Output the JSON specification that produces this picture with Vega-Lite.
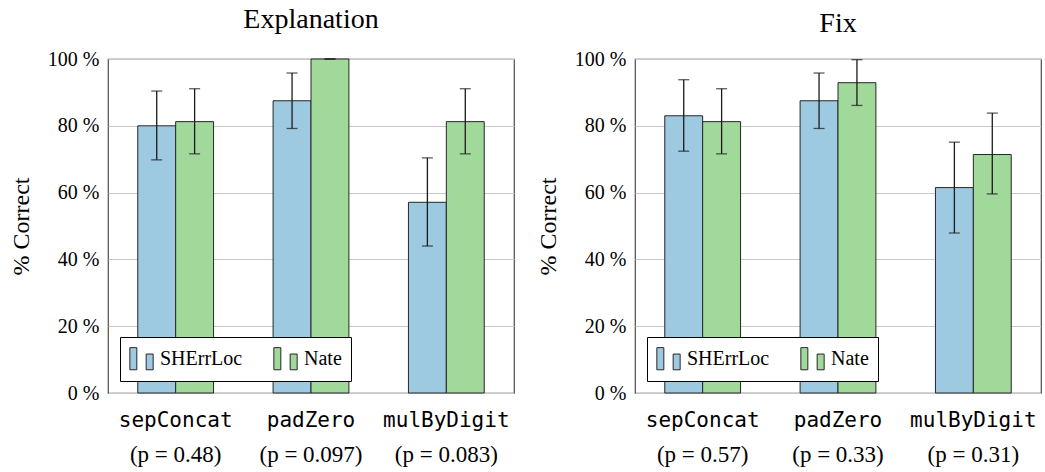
{
  "$schema": "https://vega.github.io/schema/vega-lite/v6.json",
  "background": "white",
  "padding": {"left": 8, "top": 5, "right": 5, "bottom": 0},
  "bounds": "flush",
  "spacing": 121,
  "config": {
    "font": "Liberation Serif",
    "view": {"stroke": "#4d4d4d", "strokeWidth": 1.2}
  },
  "resolve": {"scale": {"color": "independent"}, "legend": {"color": "independent"}},
  "data": {
    "values": [
      {"panel": "Explanation", "task": "sepConcat|(p = 0.48)", "method": "SHErrLoc", "value": 80.0, "lo": 69.8, "hi": 90.4},
      {"panel": "Explanation", "task": "sepConcat|(p = 0.48)", "method": "Nate", "value": 81.25, "lo": 71.6, "hi": 91.1},
      {"panel": "Explanation", "task": "padZero|(p = 0.097)", "method": "SHErrLoc", "value": 87.5, "lo": 79.2, "hi": 95.8},
      {"panel": "Explanation", "task": "padZero|(p = 0.097)", "method": "Nate", "value": 100.0, "lo": 100.0, "hi": 100.0},
      {"panel": "Explanation", "task": "mulByDigit|(p = 0.083)", "method": "SHErrLoc", "value": 57.1, "lo": 44.0, "hi": 70.4},
      {"panel": "Explanation", "task": "mulByDigit|(p = 0.083)", "method": "Nate", "value": 81.25, "lo": 71.6, "hi": 91.1},
      {"panel": "Fix", "task": "sepConcat|(p = 0.57)", "method": "SHErrLoc", "value": 83.0, "lo": 72.4, "hi": 93.8},
      {"panel": "Fix", "task": "sepConcat|(p = 0.57)", "method": "Nate", "value": 81.25, "lo": 71.6, "hi": 91.1},
      {"panel": "Fix", "task": "padZero|(p = 0.33)", "method": "SHErrLoc", "value": 87.5, "lo": 79.2, "hi": 95.8},
      {"panel": "Fix", "task": "padZero|(p = 0.33)", "method": "Nate", "value": 92.9, "lo": 86.1, "hi": 99.8},
      {"panel": "Fix", "task": "mulByDigit|(p = 0.31)", "method": "SHErrLoc", "value": 61.5, "lo": 47.9, "hi": 75.1},
      {"panel": "Fix", "task": "mulByDigit|(p = 0.31)", "method": "Nate", "value": 71.4, "lo": 59.6, "hi": 83.8}
    ]
  },
  "hconcat": [
    {
      "width": 406,
      "height": 334,
      "title": {"text": "Explanation", "font": "Liberation Serif", "fontSize": 28, "fontWeight": "normal", "color": "black", "anchor": "middle", "frame": "group", "baseline": "alphabetic", "offset": -7},
      "transform": [{"filter": "datum.panel == 'Explanation'"}],
      "encoding": {
        "x": {"field": "task", "type": "nominal", "sort": null, "scale": {"paddingInner": 0.44, "paddingOuter": 0.22}},
        "xOffset": {"field": "method", "type": "nominal", "sort": ["SHErrLoc", "Nate"], "scale": {"paddingInner": 0, "paddingOuter": 0}}
      },
      "layer": [
        {
          "mark": {"type": "bar", "stroke": "#262626", "strokeWidth": 1},
          "encoding": {
            "x": {"field": "task", "type": "nominal", "sort": null, "axis": {"orient": "bottom", "title": null, "labelExpr": "split(datum.value, '|')[0]", "labelFont": "DejaVu Sans Mono", "labelFontSize": 21, "labelColor": "black", "labelAngle": 0, "labelPadding": 16, "ticks": false, "tickSize": 0, "domain": false, "grid": false}},
            "y": {"field": "value", "type": "quantitative", "scale": {"domain": [0, 100], "nice": false}, "axis": {"title": "% Correct", "titleFont": "Liberation Serif", "titleFontSize": 24, "titleFontWeight": "normal", "titleColor": "black", "titlePadding": 14, "values": [0, 20, 40, 60, 80, 100], "labelExpr": "datum.value + ' %'", "labelFont": "Liberation Serif", "labelFontSize": 20, "labelColor": "black", "labelPadding": 9, "ticks": false, "tickSize": 0, "domain": false, "grid": true, "gridColor": "#c8c8c8", "gridWidth": 1}},
            "color": {"field": "method", "type": "nominal", "scale": {"domain": ["SHErrLoc", "Nate"], "range": ["#9ecae1", "#a1d99b"]}, "legend": {"title": null, "orient": "bottom-left", "offset": 12, "direction": "horizontal", "symbolType": "M-1,-0.95H-0.4V0.95H-1Z M0.4,-0.4H1V0.95H0.4Z", "symbolSize": 543, "symbolStrokeColor": "#262626", "symbolStrokeWidth": 1, "symbolOpacity": 1, "labelFont": "Liberation Serif", "labelFontSize": 20, "labelColor": "black", "labelOffset": 6, "columnPadding": 28, "strokeColor": "black", "fillColor": "white", "padding": 9}}
          }
        },
        {
          "mark": {"type": "rule", "color": "#1a1a1a", "strokeWidth": 1.3},
          "encoding": {
            "x": {"field": "task", "type": "nominal", "sort": null, "axis": {"orient": "bottom", "title": null, "labelExpr": "split(datum.value, '|')[1]", "labelFont": "Liberation Serif", "labelFontSize": 23, "labelColor": "black", "labelAngle": 0, "labelPadding": 50, "ticks": false, "tickSize": 0, "domain": false, "grid": false}},
            "y": {"field": "lo", "type": "quantitative"},
            "y2": {"field": "hi"}
          }
        },
        {
          "mark": {"type": "tick", "color": "#1a1a1a", "size": 11, "thickness": 1.3},
          "encoding": {
            "x": {"field": "task", "type": "nominal", "sort": null, "axis": null},
            "y": {"field": "lo", "type": "quantitative"}
          }
        },
        {
          "mark": {"type": "tick", "color": "#1a1a1a", "size": 11, "thickness": 1.3},
          "encoding": {
            "x": {"field": "task", "type": "nominal", "sort": null, "axis": null},
            "y": {"field": "hi", "type": "quantitative"}
          }
        }
      ],
      "resolve": {"axis": {"x": "independent"}}
    },
    {
      "width": 406,
      "height": 334,
      "title": {"text": "Fix", "font": "Liberation Serif", "fontSize": 28, "fontWeight": "normal", "color": "black", "anchor": "middle", "frame": "group", "baseline": "alphabetic", "offset": -11},
      "transform": [{"filter": "datum.panel == 'Fix'"}],
      "encoding": {
        "x": {"field": "task", "type": "nominal", "sort": null, "scale": {"paddingInner": 0.44, "paddingOuter": 0.22}},
        "xOffset": {"field": "method", "type": "nominal", "sort": ["SHErrLoc", "Nate"], "scale": {"paddingInner": 0, "paddingOuter": 0}}
      },
      "layer": [
        {
          "mark": {"type": "bar", "stroke": "#262626", "strokeWidth": 1},
          "encoding": {
            "x": {"field": "task", "type": "nominal", "sort": null, "axis": {"orient": "bottom", "title": null, "labelExpr": "split(datum.value, '|')[0]", "labelFont": "DejaVu Sans Mono", "labelFontSize": 21, "labelColor": "black", "labelAngle": 0, "labelPadding": 16, "ticks": false, "tickSize": 0, "domain": false, "grid": false}},
            "y": {"field": "value", "type": "quantitative", "scale": {"domain": [0, 100], "nice": false}, "axis": {"title": "% Correct", "titleFont": "Liberation Serif", "titleFontSize": 24, "titleFontWeight": "normal", "titleColor": "black", "titlePadding": 14, "values": [0, 20, 40, 60, 80, 100], "labelExpr": "datum.value + ' %'", "labelFont": "Liberation Serif", "labelFontSize": 20, "labelColor": "black", "labelPadding": 9, "ticks": false, "tickSize": 0, "domain": false, "grid": true, "gridColor": "#c8c8c8", "gridWidth": 1}},
            "color": {"field": "method", "type": "nominal", "scale": {"domain": ["SHErrLoc", "Nate"], "range": ["#9ecae1", "#a1d99b"]}, "legend": {"title": null, "orient": "bottom-left", "offset": 12, "direction": "horizontal", "symbolType": "M-1,-0.95H-0.4V0.95H-1Z M0.4,-0.4H1V0.95H0.4Z", "symbolSize": 543, "symbolStrokeColor": "#262626", "symbolStrokeWidth": 1, "symbolOpacity": 1, "labelFont": "Liberation Serif", "labelFontSize": 20, "labelColor": "black", "labelOffset": 6, "columnPadding": 28, "strokeColor": "black", "fillColor": "white", "padding": 9}}
          }
        },
        {
          "mark": {"type": "rule", "color": "#1a1a1a", "strokeWidth": 1.3},
          "encoding": {
            "x": {"field": "task", "type": "nominal", "sort": null, "axis": {"orient": "bottom", "title": null, "labelExpr": "split(datum.value, '|')[1]", "labelFont": "Liberation Serif", "labelFontSize": 23, "labelColor": "black", "labelAngle": 0, "labelPadding": 50, "ticks": false, "tickSize": 0, "domain": false, "grid": false}},
            "y": {"field": "lo", "type": "quantitative"},
            "y2": {"field": "hi"}
          }
        },
        {
          "mark": {"type": "tick", "color": "#1a1a1a", "size": 11, "thickness": 1.3},
          "encoding": {
            "x": {"field": "task", "type": "nominal", "sort": null, "axis": null},
            "y": {"field": "lo", "type": "quantitative"}
          }
        },
        {
          "mark": {"type": "tick", "color": "#1a1a1a", "size": 11, "thickness": 1.3},
          "encoding": {
            "x": {"field": "task", "type": "nominal", "sort": null, "axis": null},
            "y": {"field": "hi", "type": "quantitative"}
          }
        }
      ],
      "resolve": {"axis": {"x": "independent"}}
    }
  ]
}
